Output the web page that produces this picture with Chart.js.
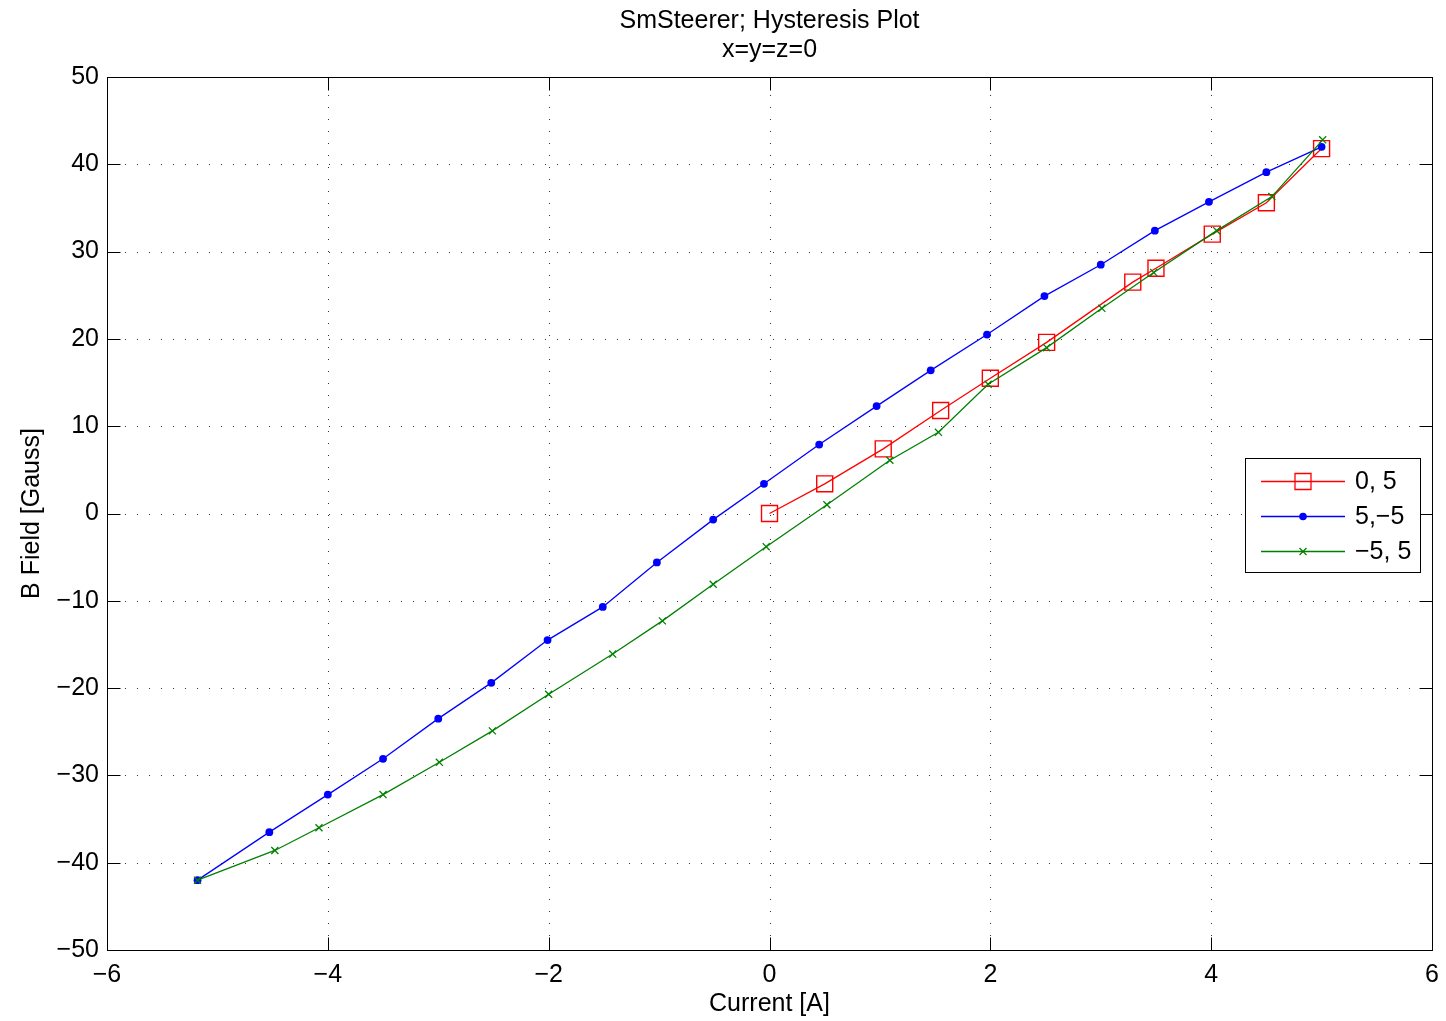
<!DOCTYPE html>
<html>
<head>
<meta charset="utf-8">
<script src="https://cdn.jsdelivr.net/npm/chart.js@4.4.1/dist/chart.umd.min.js"></script>
<style>
  html, body { margin: 0; padding: 0; background: #fff; }
  #wrap { width: 1446px; height: 1021px; }
</style>
</head>
<body>
<div id="wrap"><canvas id="grafica" width="1446" height="1021"></canvas></div>
<script>
// Datos
const corriente05 = [0, 0.50, 1.03, 1.55, 2.00, 2.51, 3.29, 3.50, 4.01, 4.50, 5.00];
const campo05 = [0, 3.4, 7.4, 11.8, 15.5, 19.6, 26.5, 28.1, 32.0, 35.6, 41.8];

const corriente5m5 = [5.00, 4.50, 3.98, 3.49, 3.00, 2.49, 1.97, 1.46, 0.97, 0.45, -0.05, -0.51, -1.02, -1.51, -2.01, -2.52, -3.00, -3.50, -4.00, -4.53, -5.18];
const campo5m5 = [42.0, 39.1, 35.7, 32.4, 28.5, 24.9, 20.5, 16.4, 12.3, 7.9, 3.4, -0.7, -5.6, -10.7, -14.5, -19.4, -23.5, -28.1, -32.2, -36.5, -42.0];

const corrientem55 = [-5.18, -4.48, -4.08, -3.50, -2.99, -2.51, -2.00, -1.42, -0.97, -0.51, -0.03, 0.52, 1.09, 1.53, 1.98, 2.51, 3.01, 3.48, 4.05, 4.55, 5.01];
const campom55 = [-42.0, -38.6, -36.0, -32.2, -28.5, -24.9, -20.7, -16.1, -12.3, -8.1, -3.8, 1.0, 6.1, 9.3, 14.8, 19.0, 23.5, 27.6, 32.4, 36.3, 42.8];

const etiquetasSerie = ['0, 5', '5,\u22125', '\u22125, 5'];
const titulo = ['SmSteerer; Hysteresis Plot', 'x=y=z=0'];
const tituloX = 'Current [A]';
const tituloY = 'B Field [Gauss]';
const ticksX = [-6, -4, -2, 0, 2, 4, 6];
const ticksY = [-50, -40, -30, -20, -10, 0, 10, 20, 30, 40, 50];

const FUENTE = 'Liberation Sans, Arial, Helvetica, sans-serif';

function puntos(xs, ys) {
  return xs.map((x, i) => ({ x: x, y: ys[i] }));
}

// Dibuja un marcador (para la leyenda)
function marcador(ctx, tipo, x, y, color) {
  ctx.save();
  ctx.strokeStyle = color;
  ctx.fillStyle = color;
  ctx.lineWidth = 1.3;
  ctx.beginPath();
  if (tipo === 'rect') {
    ctx.rect(x - 8, y - 8, 16, 16);
    ctx.stroke();
  } else if (tipo === 'circle') {
    ctx.arc(x, y, 3.8, 0, Math.PI * 2);
    ctx.fill();
  } else {
    ctx.moveTo(x - 3.5, y - 3.5); ctx.lineTo(x + 3.5, y + 3.5);
    ctx.moveTo(x - 3.5, y + 3.5); ctx.lineTo(x + 3.5, y - 3.5);
    ctx.stroke();
  }
  ctx.restore();
}

// Rejilla punteada, caja, marcas hacia dentro y titulo estilo Matlab
const ejesMatlab = {
  id: 'ejesMatlab',
  beforeDatasetsDraw(chart) {
    const { ctx, chartArea: a, scales } = chart;
    ctx.save();
    ctx.strokeStyle = '#333';
    ctx.lineWidth = 1;
    ctx.setLineDash([1, 11]);
    ticksX.forEach(v => {
      const px = Math.round(scales.x.getPixelForValue(v)) + 0.5;
      ctx.beginPath(); ctx.moveTo(px, a.top + 6); ctx.lineTo(px, a.bottom); ctx.stroke();
    });
    ticksY.forEach(v => {
      const py = Math.round(scales.y.getPixelForValue(v)) + 0.5;
      ctx.beginPath(); ctx.moveTo(a.left + 6, py); ctx.lineTo(a.right, py); ctx.stroke();
    });
    ctx.restore();
  },
  afterDatasetsDraw(chart) {
    const { ctx, chartArea: a, scales } = chart;
    const L = Math.round(a.left) + 0.5, R = Math.round(a.right) + 0.5;
    const T = Math.round(a.top) + 0.5, B = Math.round(a.bottom) + 0.5;
    ctx.save();
    ctx.strokeStyle = '#000';
    ctx.lineWidth = 1;
    ctx.strokeRect(L, T, R - L, B - T);
    const largo = 13;
    ctx.beginPath();
    ticksX.forEach(v => {
      const px = Math.round(scales.x.getPixelForValue(v)) + 0.5;
      ctx.moveTo(px, B); ctx.lineTo(px, B - largo);
      ctx.moveTo(px, T); ctx.lineTo(px, T + largo);
    });
    ticksY.forEach(v => {
      const py = Math.round(scales.y.getPixelForValue(v)) + 0.5;
      ctx.moveTo(L, py); ctx.lineTo(L + largo, py);
      ctx.moveTo(R, py); ctx.lineTo(R - largo, py);
    });
    ctx.stroke();

    // Titulo centrado sobre el area del grafico
    ctx.fillStyle = '#000';
    ctx.font = '25px ' + FUENTE;
    ctx.textAlign = 'center';
    ctx.textBaseline = 'middle';
    const cx = (a.left + a.right) / 2;
    ctx.fillText(titulo[0], cx, 21);
    ctx.fillText(titulo[1], cx, 50);

    // Leyenda
    const caja = { x: 1245.5, y: 458.5, w: 175, h: 114 };
    ctx.fillStyle = '#fff';
    ctx.fillRect(caja.x, caja.y, caja.w, caja.h);
    ctx.strokeRect(caja.x, caja.y, caja.w, caja.h);
    const filas = [481, 516, 551];
    const estilos = [['rect', 'rgb(255,0,0)'], ['circle', 'rgb(0,0,255)'], ['cross', 'rgb(0,128,0)']];
    ctx.textAlign = 'left';
    etiquetasSerie.forEach((txt, i) => {
      const y = filas[i] + 0.5;
      ctx.strokeStyle = estilos[i][1];
      ctx.lineWidth = 1.3;
      ctx.beginPath(); ctx.moveTo(1261, y); ctx.lineTo(1345, y); ctx.stroke();
      marcador(ctx, estilos[i][0], 1303, y, estilos[i][1]);
      ctx.fillStyle = '#000';
      ctx.fillText(txt, 1355, filas[i] + 1);
    });
    ctx.restore();
  }
};

const ctx = document.getElementById('grafica').getContext('2d');
new Chart(ctx, {
  type: 'scatter',
  data: {
    datasets: [
      {
        label: etiquetasSerie[0],
        data: puntos(corriente05, campo05),
        showLine: true,
        borderColor: 'rgb(255,0,0)',
        backgroundColor: 'rgba(0,0,0,0)',
        borderWidth: 1.3,
        pointStyle: 'rect',
        pointRadius: 11.3,
        pointBorderWidth: 1.4,
        pointBorderColor: 'rgb(255,0,0)',
        pointBackgroundColor: 'rgba(0,0,0,0)',
        order: 2
      },
      {
        label: etiquetasSerie[1],
        data: puntos(corriente5m5, campo5m5),
        showLine: true,
        borderColor: 'rgb(0,0,255)',
        backgroundColor: 'rgb(0,0,255)',
        borderWidth: 1.3,
        pointStyle: 'circle',
        pointRadius: 3.9,
        pointBorderWidth: 0,
        pointBackgroundColor: 'rgb(0,0,255)',
        order: 1
      },
      {
        label: etiquetasSerie[2],
        data: puntos(corrientem55, campom55),
        showLine: true,
        borderColor: 'rgb(0,128,0)',
        backgroundColor: 'rgb(0,128,0)',
        borderWidth: 1.3,
        pointStyle: 'crossRot',
        pointRadius: 5,
        pointBorderWidth: 1.3,
        pointBorderColor: 'rgb(0,128,0)',
        order: 0
      }
    ]
  },
  plugins: [ejesMatlab],
  options: {
    responsive: false,
    animation: false,
    events: [],
    layout: { padding: { left: 0, right: 14, top: 77, bottom: 0 } },
    plugins: {
      legend: { display: false },
      tooltip: { enabled: false },
      title: { display: false }
    },
    scales: {
      x: {
        type: 'linear',
        min: -6, max: 6,
        afterBuildTicks: s => { s.ticks = ticksX.map(v => ({ value: v })); },
        afterFit: s => { s.height = 71; s.paddingLeft = 0; s.paddingRight = 0; },
        grid: { display: false, drawTicks: false },
        border: { display: false },
        ticks: {
          color: '#000',
          padding: 10,
          maxRotation: 0,
          font: { family: FUENTE, size: 25 },
          callback: v => String(v).replace('-', '\u2212')
        },
        title: {
          display: true,
          text: tituloX,
          color: '#000',
          font: { family: FUENTE, size: 25 },
          padding: { top: 0, bottom: 2 }
        }
      },
      y: {
        type: 'linear',
        min: -50, max: 50,
        afterBuildTicks: s => { s.ticks = ticksY.map(v => ({ value: v })); },
        afterFit: s => { s.width = 107; s.paddingTop = 0; s.paddingBottom = 0; },
        grid: { display: false, drawTicks: false },
        border: { display: false },
        ticks: {
          color: '#000',
          padding: 8,
          font: { family: FUENTE, size: 25 },
          callback: v => String(v).replace('-', '\u2212')
        },
        title: {
          display: true,
          text: tituloY,
          color: '#000',
          font: { family: FUENTE, size: 25 },
          padding: { top: 17, bottom: 0 }
        }
      }
    }
  }
});
</script>
</body>
</html>
